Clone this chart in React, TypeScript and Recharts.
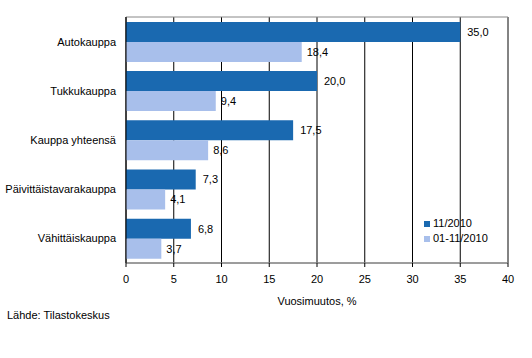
import React from 'react';
import {
  BarChart,
  Bar,
  XAxis,
  YAxis,
  CartesianGrid,
  Legend,
  LabelList,
  ReferenceArea,
} from 'recharts';

const categories = [
  'Autokauppa',
  'Tukkukauppa',
  'Kauppa yhteensä',
  'Päivittäistavarakauppa',
  'Vähittäiskauppa',
];
const month = [35.0, 20.0, 17.5, 7.3, 6.8];
const yearToDate = [18.4, 9.4, 8.6, 4.1, 3.7];
const xTicks = [0, 5, 10, 15, 20, 25, 30, 35, 40];

const DARK = '#1a69b0';
const LIGHT = '#a8bfeb';
const FONT = '"Liberation Sans", Arial, sans-serif';

const data = categories.map((name, i) => ({
  name,
  month: month[i],
  ytd: yearToDate[i],
}));

// decimals with comma, like the original
const fmt = (v: number) => v.toFixed(1).replace('.', ',');

const renderLegend = () => (
  <div style={{ fontFamily: FONT, fontSize: 11, color: '#000', lineHeight: '15px' }}>
    {[
      { label: '11/2010', color: DARK },
      { label: '01-11/2010', color: LIGHT },
    ].map((item) => (
      <div key={item.label} style={{ display: 'flex', alignItems: 'center' }}>
        <span
          style={{
            display: 'inline-block',
            width: 6,
            height: 6,
            background: item.color,
            marginRight: 3,
          }}
        />
        {item.label}
      </div>
    ))}
  </div>
);

export default function App() {
  return (
    <div style={{ position: 'absolute', left: 0, top: 0, width: 532, height: 358, background: '#fff' }}>
      <BarChart
        width={532}
        height={358}
        data={data}
        layout="vertical"
        margin={{ top: 17, right: 24, left: 0, bottom: 50 }}
        barCategoryGap="10%"
        barGap={0}
        style={{ fontFamily: FONT }}
      >
        <CartesianGrid horizontal={false} vertical stroke="#000" />
        <ReferenceArea x1={0} x2={40} fill="none" stroke="#888" strokeWidth={1} ifOverflow="visible" />
        <XAxis
          type="number"
          domain={[0, 40]}
          ticks={xTicks}
          interval={0}
          stroke="#777"
          tickSize={4}
          tickMargin={8}
          tickLine={{ stroke: '#000' }}
          tick={{ fill: '#000', fontSize: 11 }}
          height={45}
          label={{
            value: 'Vuosimuutos, %',
            position: 'insideBottom',
            offset: 3,
            fill: '#000',
            fontSize: 11,
          }}
        />
        <YAxis
          type="category"
          dataKey="name"
          width={126}
          stroke="#000"
          tickLine={false}
          tickSize={0}
          tickMargin={10}
          tick={{ fill: '#000', fontSize: 11 }}
        />
        <Legend
          layout="vertical"
          align="center"
          verticalAlign="middle"
          wrapperStyle={{ left: 424, top: 216, width: 'auto' }}
          content={renderLegend}
        />
        <Bar dataKey="month" name="11/2010" fill={DARK} isAnimationActive={false}>
          <LabelList dataKey="month" position="right" offset={7} formatter={fmt} fill="#000" fontSize={11} />
        </Bar>
        <Bar dataKey="ytd" name="01-11/2010" fill={LIGHT} isAnimationActive={false}>
          <LabelList dataKey="ytd" position="right" offset={5} formatter={fmt} fill="#000" fontSize={11} />
        </Bar>
      </BarChart>
      <div
        style={{
          position: 'absolute',
          left: 7,
          top: 309,
          fontFamily: FONT,
          fontSize: 11,
          color: '#000',
        }}
      >
        Lähde: Tilastokeskus
      </div>
    </div>
  );
}
